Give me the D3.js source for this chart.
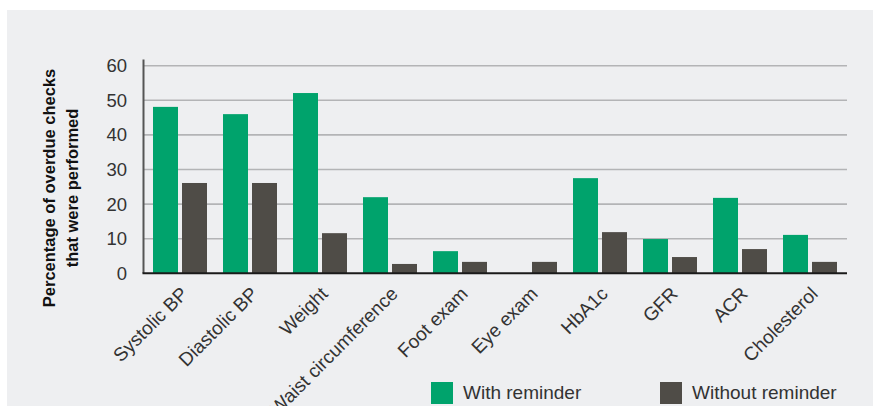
<!DOCTYPE html>
<html>
<head>
<meta charset="utf-8">
<script src="https://cdn.jsdelivr.net/npm/d3@7"></script>
<style>
  html, body { margin: 0; padding: 0; background: #ffffff; }
  svg { display: block; font-family: "Liberation Sans", Arial, Helvetica, sans-serif; }
</style>
</head>
<body>
<svg id="chart" width="873" height="406"></svg>
<script>
const categories = ["Systolic BP", "Diastolic BP", "Weight", "Waist circumference", "Foot exam",
  "Eye exam", "HbA1c", "GFR", "ACR", "Cholesterol"];
const seriesNames = ["With reminder", "Without reminder"];
const withReminder = [48.1, 46.0, 52.1, 22.0, 6.4, 0, 27.5, 9.9, 21.8, 11.1];
const withoutReminder = [26.1, 26.1, 11.6, 2.7, 3.3, 3.3, 11.9, 4.7, 7.0, 3.3];
const yTicks = [0, 10, 20, 30, 40, 50, 60];
const colors = ["#00a36c", "#4f4c47"];

const svg = d3.select("#chart");

// panel background
svg.append("rect").attr("x", 7).attr("y", 10).attr("width", 866).attr("height", 396).attr("fill", "#eeeff1");

const plotLeft = 143.5, plotRight = 847, y0px = 273.3, y60px = 65.7;

const y = d3.scaleLinear().domain([0, 60]).range([y0px, y60px]);
const x0 = d3.scaleBand().domain(categories).range([145, 845]).paddingInner(16 / 70).paddingOuter(8 / 70);
const x1 = d3.scaleBand().domain(seriesNames).range([0, x0.bandwidth()]).paddingInner(4 / 29).paddingOuter(0);

// gridlines
svg.append("g").selectAll("line").data(yTicks.filter(d => d > 0)).join("line")
  .attr("x1", plotLeft).attr("x2", plotRight)
  .attr("y1", d => y(d)).attr("y2", d => y(d))
  .attr("stroke", "#b3b4b6").attr("stroke-width", 1.6);

// y tick labels
svg.append("g").selectAll("text").data(yTicks).join("text")
  .attr("x", 127).attr("y", d => y(d) + 6.5)
  .attr("text-anchor", "end")
  .attr("font-size", 18.5).attr("fill", "#333")
  .text(d => d);

// bars
const rows = categories.map((c, i) => ({ cat: c, vals: [withReminder[i], withoutReminder[i]] }));
const groups = svg.append("g").selectAll("g").data(rows).join("g")
  .attr("transform", d => `translate(${x0(d.cat)},0)`);
groups.selectAll("rect").data(d => d.vals.map((v, j) => ({ s: seriesNames[j], v, j }))).join("rect")
  .attr("x", d => x1(d.s))
  .attr("width", x1.bandwidth())
  .attr("y", d => y(d.v))
  .attr("height", d => y(0) - y(d.v))
  .attr("fill", d => colors[d.j]);

// y axis line
svg.append("line").attr("x1", plotLeft).attr("x2", plotLeft).attr("y1", 59.5).attr("y2", y0px)
  .attr("stroke", "#555555").attr("stroke-width", 2);
// baseline
svg.append("line").attr("x1", plotLeft - 1).attr("x2", plotRight).attr("y1", y0px).attr("y2", y0px)
  .attr("stroke", "#1a1a1a").attr("stroke-width", 2);

// x labels
svg.append("g").selectAll("text").data(categories).join("text")
  .attr("transform", d => `translate(${x0(d) + x0.bandwidth() / 2 + 9},${295}) rotate(-45)`)
  .attr("text-anchor", "end")
  .attr("font-size", 19).attr("fill", "#333")
  .text(d => d);

// y axis title
const yt = svg.append("text")
  .attr("transform", "translate(0,188) rotate(-90)")
  .attr("text-anchor", "middle")
  .attr("font-size", 16.5).attr("font-weight", "bold").attr("fill", "#111");
yt.append("tspan").attr("x", 0).attr("y", 55).text("Percentage of overdue checks");
yt.append("tspan").attr("x", 0).attr("y", 78).text("that were performed");

// legend
const legendX = [431, 660];
const lg = svg.append("g").selectAll("g").data(seriesNames).join("g")
  .attr("transform", (d, i) => `translate(${legendX[i]},382)`);
lg.append("rect").attr("width", 22).attr("height", 22).attr("fill", (d, i) => colors[i]);
lg.append("text").attr("x", 32).attr("y", 17).attr("font-size", 19).attr("fill", "#333").text(d => d);
</script>
</body>
</html>
